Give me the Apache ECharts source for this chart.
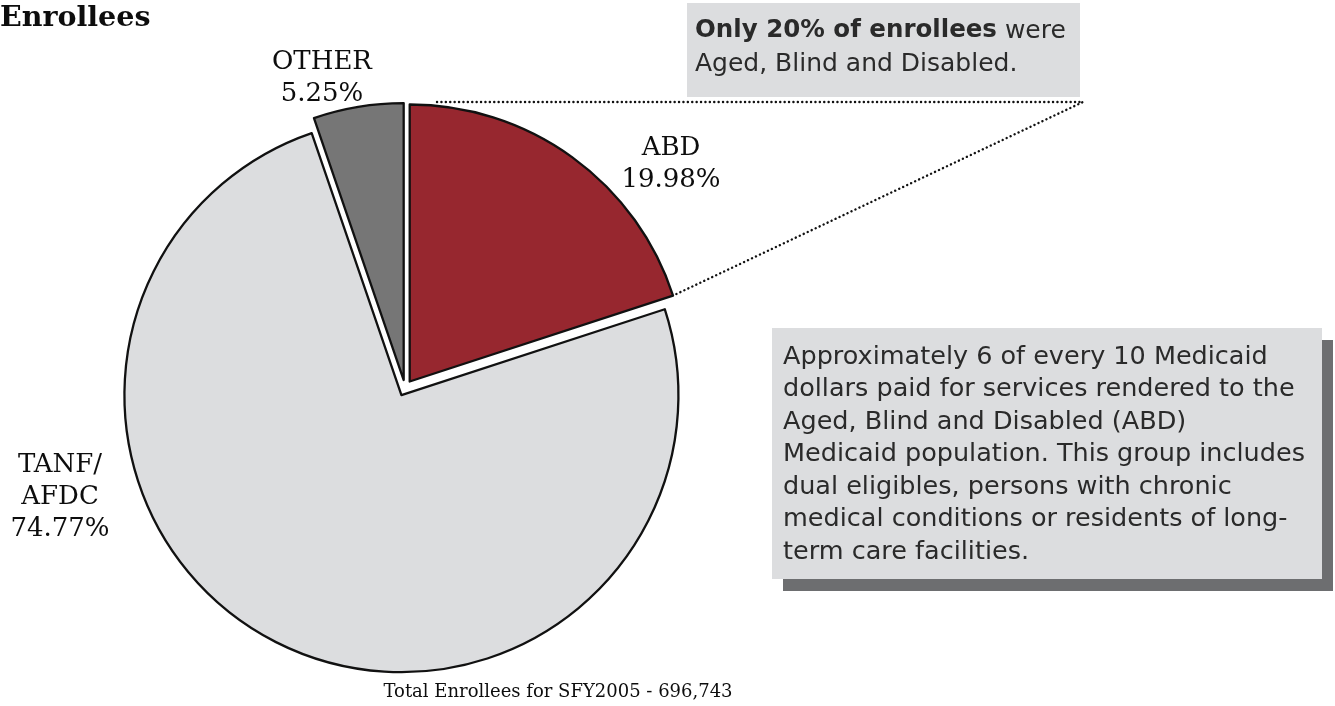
<!DOCTYPE html>
<html>
<head>
<meta charset="utf-8">
<script src="https://cdn.jsdelivr.net/npm/echarts@6/dist/echarts.min.js"></script>
<style>
  html, body { margin: 0; padding: 0; background: #ffffff; }
  #chart { width: 1335px; height: 706px; }
</style>
</head>
<body>
<div id="chart"></div>
<script>
// Enrollee shares by eligibility group, SFY2005
const groups = ['ABD', 'TANF/\nAFDC', 'OTHER'];
const shares = [19.98, 74.77, 5.25];
const sliceColors = ['#97272f', '#dcdddf', '#767676'];
const labelSpots = [[671, 164], [60, 497], [322, 78]];

const totalLabel = 'Total Enrollees for SFY2005 - 696,743';
const calloutBold = 'Only 20% of enrollees';
const calloutRest = ' were';
const calloutLine2 = 'Aged, Blind and Disabled.';
const noteLines = [
  'Approximately 6 of every 10 Medicaid',
  'dollars paid for services rendered to the',
  'Aged, Blind and Disabled (ABD)',
  'Medicaid population. This group includes',
  'dual eligibles, persons with chronic',
  'medical conditions or residents of long-',
  'term care facilities.'
];

const pieCenter = [405, 388];
const pieRadius = 277;
const explode = 8;

// outer corner of the ABD wedge, where the callout line lands
const total = shares.reduce((a, b) => a + b, 0);
const abdSweep = 360 * shares[0] / total;
const midRad = (90 - abdSweep / 2) * Math.PI / 180;
const endRad = (90 - abdSweep) * Math.PI / 180;
const abdCorner = [
  pieCenter[0] + explode * Math.cos(midRad) + pieRadius * Math.cos(endRad),
  pieCenter[1] - explode * Math.sin(midRad) - pieRadius * Math.sin(endRad)
];

const chart = echarts.init(document.getElementById('chart'), null, { renderer: 'canvas' });

const serif = '"DejaVu Serif", "Liberation Serif", serif';
const sans = '"DejaVu Sans", "Noto Sans", sans-serif';

// slice labels: group name over its share
const sliceLabels = groups.map((g, i) => ({
  type: 'text',
  x: labelSpots[i][0],
  y: labelSpots[i][1],
  style: {
    text: g + '\n' + shares[i].toFixed(2) + '%',
    font: '26px ' + serif,
    lineHeight: 32,
    fill: '#0d0d0d',
    textAlign: 'center',
    textVerticalAlign: 'middle'
  }
}));

chart.setOption({
  animation: false,
  backgroundColor: '#ffffff',
  series: [{
    type: 'pie',
    center: pieCenter,
    radius: pieRadius,
    startAngle: 90,
    clockwise: true,
    selectedMode: 'multiple',
    selectedOffset: explode,
    emphasis: { disabled: true },
    silent: true,
    itemStyle: { borderColor: '#111', borderWidth: 2.3 },
    label: { show: false },
    labelLine: { show: false },
    data: groups.map((g, i) => ({
      name: g,
      value: shares[i],
      selected: true,
      itemStyle: { color: sliceColors[i] }
    }))
  }],
  graphic: [
    {
      type: 'text', left: 0, top: 4,
      style: { text: 'Enrollees', font: 'bold 28.5px ' + serif, fill: '#0d0d0d' }
    },
    {
      type: 'text', x: 558, y: 692,
      style: {
        text: totalLabel, font: '18px ' + serif, fill: '#0d0d0d',
        textAlign: 'center', textVerticalAlign: 'middle'
      }
    },
    // callout box above the pie
    {
      type: 'rect', shape: { x: 687, y: 3, width: 393, height: 94 },
      style: { fill: '#dcdddf' }
    },
    {
      type: 'text', x: 695, y: 31,
      style: {
        text: '{b|' + calloutBold + '}{r|' + calloutRest + '}',
        textVerticalAlign: 'middle',
        rich: {
          b: { font: 'bold 24.5px ' + sans, fill: '#2a2a2a' },
          r: { font: '25px ' + sans, fill: '#2a2a2a' }
        }
      }
    },
    {
      type: 'text', x: 695, y: 64,
      style: { text: calloutLine2, font: '25px ' + sans, fill: '#2a2a2a', textVerticalAlign: 'middle' }
    },
    {
      type: 'polyline',
      shape: { points: [[437, 102], [1083, 102], abdCorner] },
      style: { stroke: '#111', lineWidth: 2.4, lineDash: [0.1, 4.3], lineCap: 'round', fill: null }
    },
    // note box with drop shadow
    {
      type: 'rect', shape: { x: 783, y: 340, width: 550, height: 251 },
      style: { fill: '#6d6e70' }
    },
    {
      type: 'rect', shape: { x: 772, y: 328, width: 550, height: 251 },
      style: { fill: '#dcdddf' }
    },
    ...noteLines.map((t, i) => ({
      type: 'text', x: 783, y: 357 + i * 32.5,
      style: { text: t, font: '25.5px ' + sans, fill: '#2a2a2a', textVerticalAlign: 'middle' }
    })),
    ...sliceLabels
  ]
});
</script>
</body>
</html>
